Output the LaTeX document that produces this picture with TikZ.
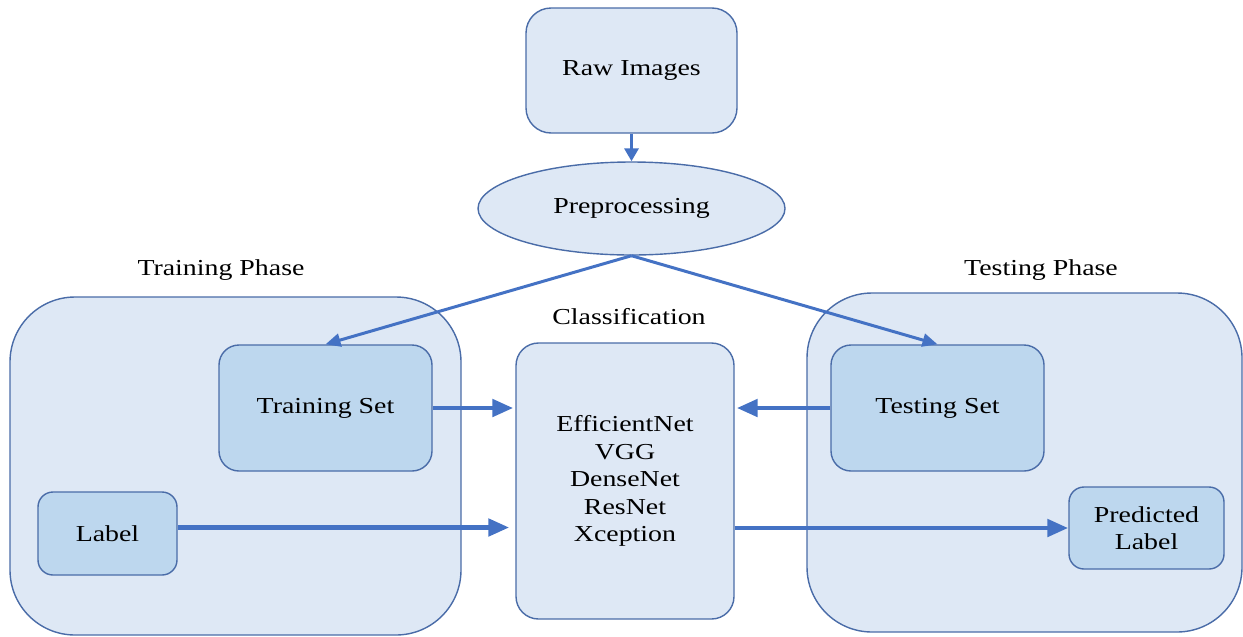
\documentclass[tikz,border=0pt]{standalone}
\usepackage{fontspec}
\setmainfont{Liberation Serif}[FakeStretch=1.22]
\usepackage{xcolor}
\usetikzlibrary{shapes.geometric, arrows.meta, positioning}
\definecolor{boxfill}{HTML}{DEE8F5}
\definecolor{setfill}{HTML}{BDD7EE}
\definecolor{boxline}{HTML}{4A6CA8}
\definecolor{flowblue}{HTML}{4472C4}

\begin{document}
\begin{tikzpicture}[
    every node/.style={font=\fontsize{13}{15.6}\selectfont},
    % Box styles
    phase/.style={rectangle, rounded corners=1.3cm, draw=boxline, fill=boxfill, line width=0.8pt, inner sep=0pt},
    source/.style={rectangle, rounded corners=0.5cm, draw=boxline, fill=boxfill, line width=0.8pt, align=center},
    prep/.style={ellipse, draw=boxline, fill=boxfill, line width=0.8pt, inner sep=0pt},
    model/.style={rectangle, rounded corners=0.45cm, draw=boxline, fill=boxfill, line width=0.8pt, align=center},
    dataset/.style={rectangle, rounded corners=0.4cm, draw=boxline, fill=setfill, line width=0.8pt, align=center},
    % Arrow styles
    dataflow/.style={-{Triangle[length=0.42cm, width=0.34cm]}, line width=2.8pt, flowblue},
    splitflow/.style={-{Triangle[length=0.3cm, width=0.26cm]}, line width=1.7pt, flowblue},
    downflow/.style={-{Triangle[length=0.26cm, width=0.28cm]}, line width=2pt, flowblue},
    % Labels
    sectionlabel/.style={font=\fontsize{13}{15.6}\selectfont}
]
\useasboundingbox (0,0) rectangle (24.86,-12.72);

% Phase regions
\node[phase, minimum width=9.02cm, minimum height=6.76cm] (trainphase) at (4.71,-9.32) {};
\node[phase, minimum width=8.7cm, minimum height=6.78cm] (testphase) at (20.49,-9.25) {};
\node[sectionlabel] (trainlbl) at (4.42,-5.4) {Training Phase};
\node[sectionlabel] (testlbl) at (20.82,-5.4) {Testing Phase};
\node[sectionlabel] (clslbl) at (12.58,-6.34) {Classification};

% Top of the pipeline
\node[source, minimum width=4.22cm, minimum height=2.5cm] (raw) at (12.63,-1.41) {Raw Images};
\node[prep, minimum width=6.14cm, minimum height=1.86cm] (prep) at (12.63,-4.17) {Preprocessing};

% Data sets and models
\node[dataset, minimum width=4.26cm, minimum height=2.52cm] (trainset) at (6.51,-8.16) {Training Set};
\node[dataset, minimum width=4.26cm, minimum height=2.52cm] (testset) at (18.75,-8.16) {Testing Set};
\node[dataset, minimum width=2.78cm, minimum height=1.66cm, rounded corners=0.3cm] (label) at (2.15,-10.67) {Label};
\node[model, minimum width=4.36cm, minimum height=5.52cm] (cls) at (12.5,-9.62) {EfficientNet\\VGG\\DenseNet\\ResNet\\Xception};
\node[dataset, minimum width=3.1cm, minimum height=1.64cm, rounded corners=0.3cm] (pred) at (22.93,-10.56) {Predicted\\Label};

% Flows
\draw[downflow] (raw) -- (prep);
\draw[splitflow] (prep.south) -- (trainset.north);
\draw[splitflow] (prep.south) -- (testset.north);
\draw[dataflow] (trainset.east) -- ([xshift=-0.04cm]trainset.east -| cls.west);
\draw[dataflow] (testset.west) -- ([xshift=0.04cm]testset.west -| cls.east);
\draw[dataflow] ([yshift=0.12cm]label.east) -- ([xshift=-0.12cm, yshift=0.12cm]label.east -| cls.west);
\draw[dataflow] (pred.west -| cls.east) -- (pred.west);

\end{tikzpicture}
\end{document}
